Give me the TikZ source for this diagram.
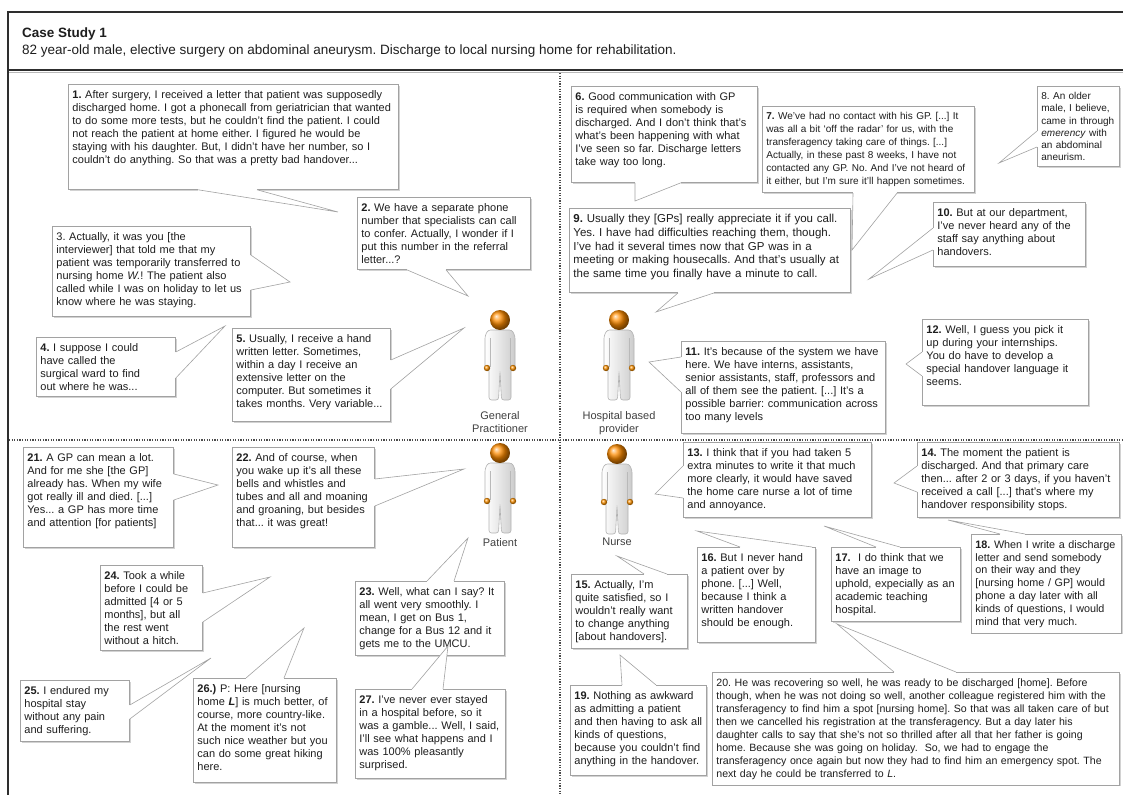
\documentclass[tikz,border=0pt]{standalone}
\usepackage{fontspec}
\setmainfont{Liberation Sans}
\usetikzlibrary{shadows}
\frenchspacing
\definecolor{ink}{HTML}{1E1E1E}
\definecolor{boxline}{HTML}{A2A2A2}
\definecolor{frameline}{HTML}{2E2E2E}
\newcommand\bpad[1]{\rule[-#1pt]{0pt}{#1pt}}
\newcommand\calltail[3]{%
  \fill[white] #1 -- #2 -- #3 -- cycle;
  \draw[white,line width=2.4pt] #1 -- #3;
  \draw[tailline] #1 -- #2 -- #3;}
\tikzset{
  bubble/.style={draw=boxline, fill=white, line width=0.8pt, anchor=north west, align=left,
    inner xsep=4pt, inner ysep=6pt, text=ink, font=\fontsize{11}{13}\selectfont,
    drop shadow={shadow xshift=1.2pt, shadow yshift=-1.2pt, fill=gray!35, opacity=1}},
  tailline/.style={draw=boxline, line width=0.6pt},
  who/.style={anchor=north, align=center, inner sep=0pt, text=ink!85, font=\fontsize{11}{13}\selectfont},
  divider/.style={draw=black!70, line width=1.1pt, dash pattern=on 1.2pt off 1.4pt},
  person/.pic={
    \draw[gray!60, line width=0.6pt, left color=white, right color=gray!40, rounded corners=2.5pt]
      (-12,20) -- (12,20) -- (15,26) -- (15,58) -- (11,59) -- (11,90) -- (1.5,90) -- (0,62)
      -- (-1.5,90) -- (-11,90) -- (-11,59) -- (-15,58) -- (-15,26) -- cycle;
    \draw[gray!55, line width=0.5pt] (-10,28) -- (-10,57) (10,28) -- (10,57);
    \shade[ball color=orange!85!yellow] (-13,58) circle (3.2);
    \shade[ball color=orange!85!yellow] (13,58) circle (3.2);
    \shade[ball color=orange!90!yellow] (0,10) circle (10);
  }
}
\begin{document}
\begin{tikzpicture}[x=1pt,y=-1pt]
   \useasboundingbox (0,0) rectangle (1123,795);
   \draw[frameline, line width=1.6pt] (7,12) -- (1123,12);
   \draw[frameline, line width=1.6pt] (7,70) -- (1123,70);
   \draw[gray!55, line width=0.8pt] (8,72) -- (1123,72);
   \draw[frameline, line width=1.6pt] (8,12) -- (8,795);
   \node[anchor=west, inner sep=0pt, text=ink, font=\bfseries\fontsize{13.5}{16}\selectfont] (title) at (22,34) {Case Study 1};
   \node[anchor=west, inner sep=0pt, text=ink, font=\fontsize{13.5}{16}\selectfont] (subtitle) at (22,51) {82 year-old male, elective surgery on abdominal aneurysm. Discharge to local nursing home for rehabilitation.};
   \draw[divider] (560,73) -- (560,795);
   \draw[divider] (9,440) -- (1123,440);

   \node[bubble, text width=322pt] (b1) at (68,84) {\textbf{1.} After surgery, I received a letter that patient was supposedly\\discharged home. I got a phonecall from geriatrician that wanted\\to do some more tests, but he couldn't find the patient. I could\\not reach the patient at home either. I figured he would be\\staying with his daughter. But, I didn't have her number, so I\\couldn't do anything. So that was a pretty bad handover...\bpad{20}};
   \node[bubble, text width=165pt] (b2) at (357,197) {\textbf{2.} We have a separate phone\\number that specialists can call\\to confer. Actually, I wonder if I\\put this number in the referral\\letter...?};
   \node[bubble, text width=190pt] (b3) at (52,226) {3. Actually, it was you [the\\interviewer] that told me that my\\patient was temporarily transferred to\\nursing home \textit{W.}! The patient also\\called while I was on holiday to let us\\know where he was staying.\bpad{5}};
   \node[bubble, text width=131pt] (b4) at (36,337) {\textbf{4.} I suppose I could\\have called the\\surgical ward to find\\out where he was...};
   \node[bubble, text width=150pt] (b5) at (232,328) {\textbf{5.} Usually, I receive a hand\\written letter. Sometimes,\\within a day I receive an\\extensive letter on the\\computer. But sometimes it\\takes months. Very variable...\bpad{8}};

   \node[bubble, text width=178pt] (b6) at (571,86) {\textbf{6.} Good communication with GP\\is required when somebody is\\discharged. And I don't think that's\\what's been happening with what\\I've seen so far. Discharge letters\\take way too long.\bpad{11}};
   \node[bubble, text width=204pt, font=\fontsize{10}{13}\selectfont] (b7) at (762,106) {\textbf{7.} We've had no contact with his GP. [...] It\\was all a bit `off the radar' for us, with the\\transferagency taking care of things. [...]\\Actually, in these past 8 weeks, I have not\\contacted any GP. No. And I've not heard of\\it either, but I'm sure it'll happen sometimes.};
   \node[bubble, text width=74pt, font=\fontsize{10}{12.2}\selectfont] (b8) at (1037,86) {8. An older\\male, I believe,\\came in through\\\textit{emerency} with\\an abdominal\\aneurism.};
   \node[bubble, text width=273pt, font=\fontsize{11.5}{13.7}\selectfont] (b9) at (569,208) {\textbf{9.} Usually they [GPs] really appreciate it if you call.\\Yes. I have had difficulties reaching them, though.\\I've had it several times now that GP was in a\\meeting or making housecalls. And that's usually at\\the same time you finally have a minute to call.\bpad{9}};
   \node[bubble, text width=144pt] (b10) at (933,202) {\textbf{10.} But at our department,\\I've never heard any of the\\staff say anything about\\handovers.\bpad{5}};
   \node[bubble, text width=196pt] (b11) at (681,341) {\textbf{11.} It's because of the system we have\\here. We have interns, assistants,\\senior assistants, staff, professors and\\all of them see the patient. [...] It's a\\possible barrier: communication across\\too many levels\bpad{7}};
   \node[bubble, text width=158pt] (b12) at (922,319) {\textbf{12.} Well, I guess you pick it\\up during your internships.\\You do have to develop a\\special handover language it\\seems.\bpad{14}};

   \node[bubble, text width=180pt] (b13) at (683,442) {\textbf{13.} I think that if you had taken 5\\extra minutes to write it that much\\more clearly, it would have saved\\the home care nurse a lot of time\\and annoyance.\bpad{3}};
   \node[bubble, text width=194pt] (b14) at (917,442) {\textbf{14.} The moment the patient is\\discharged. And that primary care\\then... after 2 or 3 days, if you haven't\\received a call [...] that's where my\\handover responsibility stops.\bpad{3}};
   \node[bubble, text width=108pt] (b15) at (571,574) {\textbf{15.} Actually, I'm\\quite satisfied, so I\\wouldn't really want\\to change anything\\{}[about handovers].};
   \node[bubble, text width=110pt] (b16) at (697,547) {\textbf{16.} But I never hand\\a patient over by\\phone. [...] Well,\\because I think a\\written handover\\should be enough.\bpad{10}};
   \node[bubble, text width=121pt] (b17) at (831,547) {\textbf{17.}\ \ I do think that we\\have an image to\\uphold, expecially as an\\academic teaching\\hospital.};
   \node[bubble, text width=142pt, font=\fontsize{10.8}{12.8}\selectfont] (b18) at (971,534) {\textbf{18.} When I write a discharge\\letter and send somebody\\on their way and they\\{}[nursing home / GP] would\\phone a day later with all\\kinds of questions, I would\\mind that very much.};
   \node[bubble, text width=128pt] (b19) at (570,685) {\textbf{19.} Nothing as awkward\\as admitting a patient\\and then having to ask all\\kinds of questions,\\because you couldn't find\\anything in the handover.\bpad{5}};
   \node[bubble, text width=399pt, font=\fontsize{10.6}{13}\selectfont] (b20) at (712,672) {20. He was recovering so well, he was ready to be discharged [home]. Before\\though, when he was not doing so well, another colleague registered him with the\\transferagency to find him a spot [nursing home]. So that was all taken care of but\\then we cancelled his registration at the transferagency. But a day later his\\daughter calls to say that she's not so thrilled after all that her father is going\\home. Because she was going on holiday.\ \ So, we had to engage the\\transferagency once again but now they had to find him an emergency spot. The\\next day he could be transferred to \textit{L}.};

   \node[bubble, text width=142pt] (b21) at (23,447) {\textbf{21.} A GP can mean a lot.\\And for me she [the GP]\\already has. When my wife\\got really ill and died. [...]\\Yes... a GP has more time\\and attention [for patients]\bpad{15}};
   \node[bubble, text width=134pt] (b22) at (232,447) {\textbf{22.} And of course, when\\you wake up it's all these\\bells and whistles and\\tubes and all and moaning\\and groaning, but besides\\that... it was great!\bpad{15}};
   \node[bubble, text width=141pt] (b23) at (355,581) {\textbf{23.} Well, what can I say? It\\all went very smoothly. I\\mean, I get on Bus 1,\\change for a Bus 12 and it\\gets me to the UMCU.};
   \node[bubble, text width=94pt] (b24) at (100,565) {\textbf{24.} Took a while\\before I could be\\admitted [4 or 5\\months], but all\\the rest went\\without a hitch.};
   \node[bubble, text width=101pt] (b25) at (20,680) {\textbf{25.} I endured my\\hospital stay\\without any pain\\and suffering.};
   \node[bubble, text width=135pt] (b26) at (193,678) {\textbf{26.)} P: Here [nursing\\home \textbf{\textit{L}}] is much better, of\\course, more country-like.\\At the moment it's not\\such nice weather but you\\can do some great hiking\\here.\bpad{6}};
   \node[bubble, text width=142pt] (b27) at (355,689) {\textbf{27.} I've never ever stayed\\in a hospital before, so it\\was a gamble... Well, I said,\\I'll see what happens and I\\was 100\% pleasantly\\surprised.\bpad{4}};

   \coordinate (t1) at (338,212);
   \coordinate (t2) at (468,296);
   \coordinate (t3) at (290,282);
   \coordinate (t4) at (225,326);
   \coordinate (t5) at (464,328);
   \coordinate (t6) at (635,201);
   \coordinate (t7) at (852,250);
   \coordinate (t8) at (999,163);
   \coordinate (t9) at (656,312);
   \coordinate (t10) at (869,279);
   \coordinate (t11) at (649,362);
   \coordinate (t12) at (906,364);
   \coordinate (t13) at (655,494);
   \coordinate (t14) at (894,483);
   \coordinate (t15) at (617,556);
   \coordinate (t16) at (697,531);
   \coordinate (t17) at (824,526);
   \coordinate (t18) at (948,520);
   \coordinate (t19) at (620,655);
   \coordinate (t20) at (837,624);
   \coordinate (t21) at (218,485);
   \coordinate (t22) at (464,469);
   \coordinate (t23) at (468,538);
   \coordinate (t24) at (270,577);
   \coordinate (t25) at (211,658);
   \coordinate (t26) at (304,628);
   \coordinate (t27) at (448,646);

   \calltail{([xshift=130pt]b1.south west)}{(t1)}{([xshift=189pt]b1.south west)}
   \calltail{([xshift=50pt]b2.south west)}{(t2)}{([xshift=89pt]b2.south west)}
   \calltail{([yshift=-29pt]b3.north east)}{(t3)}{([yshift=-64pt]b3.north east)}
   \calltail{([yshift=-15pt]b4.north east)}{(t4)}{([yshift=-41pt]b4.north east)}
   \calltail{([yshift=-32pt]b5.north east)}{(t5)}{([yshift=-61pt]b5.north east)}
   \calltail{([xshift=64pt]b6.south west)}{(t6)}{([xshift=110pt]b6.south west)}
   \calltail{([xshift=91pt]b7.south west)}{(t7)}{([xshift=135pt]b7.south west)}
   \calltail{([yshift=-45pt]b8.north west)}{(t8)}{([yshift=-61pt]b8.north west)}
   \calltail{([xshift=109pt]b9.south west)}{(t9)}{([xshift=145pt]b9.south west)}
   \calltail{([yshift=-26pt]b10.north west)}{(t10)}{([yshift=-48pt]b10.north west)}
   \calltail{([yshift=-16pt]b11.north west)}{(t11)}{([yshift=-51pt]b11.north west)}
   \calltail{([yshift=-33pt]b12.north west)}{(t12)}{([yshift=-57pt]b12.north west)}
   \calltail{([yshift=-24pt]b13.north west)}{(t13)}{([yshift=-56pt]b13.north west)}
   \calltail{([yshift=-24pt]b14.north west)}{(t14)}{([yshift=-50pt]b14.north west)}
   \calltail{([xshift=73pt]b15.north west)}{(t15)}{([xshift=96pt]b15.north west)}
   \calltail{([xshift=43pt]b16.north west)}{(t16)}{([xshift=115pt]b16.north west)}
   \calltail{([xshift=45pt]b17.north west)}{(t17)}{([xshift=69pt]b17.north west)}
   \calltail{([xshift=29pt]b18.north west)}{(t18)}{([xshift=54pt]b18.north west)}
   \calltail{([xshift=52pt]b19.north west)}{(t19)}{([xshift=86pt]b19.north west)}
   \calltail{([xshift=182pt]b20.north west)}{(t20)}{([xshift=244pt]b20.north west)}
   \calltail{([yshift=-27pt]b21.north east)}{(t21)}{([yshift=-53pt]b21.north east)}
   \calltail{([yshift=-32pt]b22.north east)}{(t22)}{([yshift=-59pt]b22.north east)}
   \calltail{([xshift=72pt]b23.north west)}{(t23)}{([xshift=99pt]b23.north west)}
   \calltail{([yshift=-28pt]b24.north east)}{(t24)}{([yshift=-57pt]b24.north east)}
   \calltail{([yshift=-25pt]b25.north east)}{(t25)}{([yshift=-39pt]b25.north east)}
   \calltail{([xshift=53pt]b26.north west)}{(t26)}{([xshift=91pt]b26.north west)}
   \calltail{([xshift=57pt]b27.north west)}{(t27)}{([xshift=88pt]b27.north west)}

   \pic (gp) at (500,310) {person};
   \pic (hosp) at (619,310) {person};
   \pic (pat) at (500,443) {person};
   \pic (nurse) at (617,444) {person};
   \node[who] (gplabel) at (500,411) {General\\Practitioner};
   \node[who] (hosplabel) at (619,411) {Hospital based\\provider};
   \node[who] (patlabel) at (500,538) {Patient};
   \node[who] (nurselabel) at (617,538) {Nurse};
\end{tikzpicture}
\end{document}
